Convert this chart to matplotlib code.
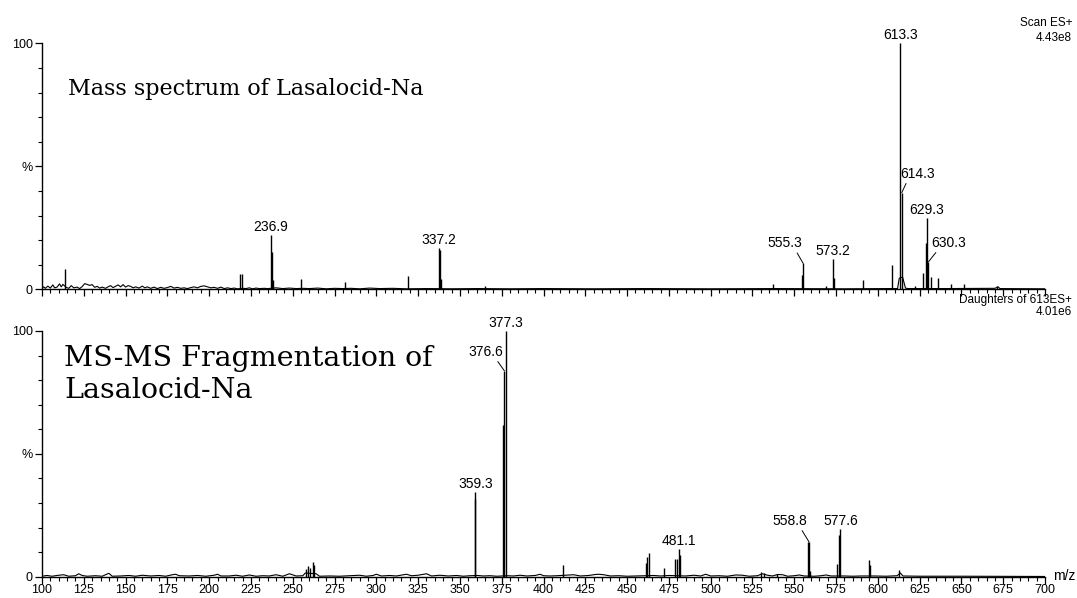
import matplotlib.pyplot as plt
import numpy as np
from matplotlib.ticker import MultipleLocator

# ---- top spectrum: full scan ES+ (relative intensity, %) ----
top_base_mz = [100, 101, 102, 103.5, 105, 106.5, 107.5, 109, 110.5, 111.5, 112.5, 114.5, 116, 117.5, 119,
               121, 122.5, 124, 125.5, 127, 128.5, 130, 131.5, 133, 134.5, 136, 138, 139.5, 141, 142.5,
               144, 145.5, 147, 148.5, 150, 151.5, 153, 154.5, 156, 158, 160, 161.5, 163, 165, 167, 169,
               171, 173, 175, 177, 179, 181, 183, 185, 187, 189, 191, 193, 195, 197, 199, 201, 203, 205,
               207, 209, 211, 213, 215, 217, 220.5, 222, 224, 226, 228, 230, 233, 235, 240, 244, 248,
               252, 256, 260, 265, 270, 275, 280, 285, 290, 296, 302, 310, 318, 330, 345, 360, 380, 400,
               430, 460, 500, 540, 580, 605, 611.8, 612.8, 614.8, 616.5, 618, 640, 670, 672, 673, 700]
top_base_int = [0.3, 1.0, 0.4, 1.3, 0.5, 1.8, 0.6, 0.9, 2.2, 1.0, 2.0, 0.8, 0.4, 1.5, 0.6,
                0.9, 0.3, 1.1, 2.3, 2.0, 1.6, 1.9, 0.8, 1.2, 0.5, 0.9, 0.4, 1.0, 1.5, 0.7,
                1.2, 1.8, 1.0, 1.9, 0.9, 1.5, 1.2, 0.6, 1.0, 0.5, 1.3, 0.6, 1.0, 0.4, 0.9, 0.3,
                0.8, 0.4, 0.7, 1.2, 0.5, 0.8, 0.4, 0.6, 0.3, 0.7, 1.0, 0.6, 1.2, 1.4, 1.0, 0.6, 0.8, 0.4,
                0.9, 0.3, 0.6, 0.3, 0.5, 0.2, 0.4, 0.3, 0.6, 0.2, 0.5, 0.3, 0.4, 0.3, 0.6, 0.3, 0.5,
                0.3, 0.4, 0.3, 0.5, 0.2, 0.4, 0.3, 0.4, 0.2, 0.5, 0.3, 0.4, 0.2, 0.3, 0.2, 0.3, 0.2, 0.3,
                0.2, 0.3, 0.2, 0.3, 0.2, 0.3, 0.3, 4.5, 5.0, 0.5, 0.3, 0.3, 0.4, 1.0, 0.3, 0.2]

top_peak_mz = [113.9, 218.3, 219.5, 236.9, 237.3, 238.0, 254.9, 281.3, 319.1, 337.2, 337.8, 338.4, 365.0,
               537.0, 554.9, 555.3, 568.7, 573.2, 573.8, 591.3, 608.5, 613.3, 614.3, 622.3, 627.2,
               628.6, 629.3, 630.3, 631.8, 635.8, 643.8, 651.7, 671.1]
top_peak_int = [8.1, 6.1, 6.1, 22.0, 15.3, 3.8, 4.1, 2.8, 5.4, 16.7, 16.0, 4.0, 1.2,
                2.2, 5.8, 10.6, 1.2, 12.2, 4.7, 3.8, 9.9, 100.0, 39.3, 1.2, 6.5,
                18.7, 28.9, 11.2, 5.0, 4.7, 2.0, 2.0, 1.5]

top_labels = ["236.9", "337.2", "555.3", "573.2", "613.3", "614.3", "629.3", "630.3"]

# ---- bottom spectrum: daughters of 613 ES+ ----
bot_base_mz = [100, 103, 106, 110, 113, 116, 120, 122, 124, 127, 132, 136, 140, 142, 147, 152, 156, 160,
               165, 170, 174, 178, 180, 182, 188, 193, 198, 203, 205, 207, 212, 216, 220, 224, 228, 232,
               236, 240, 244, 248, 252, 256, 257.5, 264, 266, 272, 278, 284, 290, 294, 298, 300, 303,
               308, 312, 318, 321, 325, 330, 333, 338, 343, 348, 352, 356, 360.5, 364, 368, 372, 375,
               378.5, 382, 386, 390, 395, 398, 400, 404, 408, 413, 418, 422, 427, 431, 433, 436, 440,
               445, 450, 455, 460, 466, 470, 475, 485, 490, 494, 497, 500, 505, 510, 515, 519, 523, 528,
               531, 534, 537, 540, 543, 546, 550, 553, 556, 562, 566, 569, 572, 580, 585, 590, 598, 605,
               611.5, 613.5, 615, 625, 650, 700]
bot_base_int = [0.2, 0.5, 0.2, 0.6, 0.8, 0.2, 0.4, 1.2, 0.5, 0.2, 0.4, 0.2, 1.4, 0.2, 0.3, 0.5, 0.2, 0.6,
                0.3, 0.5, 0.2, 0.8, 1.0, 0.4, 0.3, 0.5, 0.2, 0.6, 1.0, 0.3, 0.3, 0.6, 0.2, 0.7, 0.2, 0.4,
                0.3, 0.8, 0.2, 1.2, 0.3, 0.4, 1.5, 1.2, 0.2, 0.3, 0.2, 0.4, 0.6, 0.2, 0.5, 1.0, 0.3,
                0.5, 0.3, 1.0, 0.4, 0.6, 1.2, 0.3, 0.6, 0.3, 0.5, 0.2, 0.4, 0.5, 0.3, 0.4, 0.2, 0.3,
                0.4, 0.3, 0.6, 0.3, 0.5, 1.0, 0.4, 0.3, 0.4, 0.6, 0.8, 0.3, 0.5, 0.9, 1.0, 0.8, 0.3,
                0.4, 0.2, 0.3, 0.4, 0.5, 0.3, 0.5, 0.3, 0.6, 0.3, 1.0, 0.3, 0.4, 0.2, 0.7, 0.6, 0.2, 0.4,
                1.2, 0.6, 0.3, 0.9, 0.8, 0.2, 0.4, 0.7, 0.3, 0.2, 0.4, 0.7, 0.3, 0.3, 0.2, 0.3, 0.3, 0.2,
                0.4, 1.5, 0.3, 0.2, 0.2, 0.1]

bot_peak_mz = [258.0, 259.0, 260.5, 262.0, 263.0, 358.8, 359.3, 376.0, 376.6, 377.3, 411.7,
               461.5, 462.2, 463.0, 472.2, 478.5, 479.6, 481.1, 481.7, 530.0, 532.0, 539.7,
               558.2, 558.8, 559.6, 575.8, 576.9, 577.6, 594.6, 595.4, 612.6]
bot_peak_int = [3.0, 4.2, 3.5, 5.9, 4.8, 31.6, 34.6, 61.7, 83.8, 100.0, 4.8,
                5.4, 8.0, 9.5, 3.4, 7.1, 7.2, 11.2, 9.0, 2.0, 1.6, 1.2,
                14.0, 14.2, 2.5, 5.0, 17.0, 19.3, 6.8, 4.8, 2.7]

bot_labels = ["359.3", "376.6", "377.3", "481.1", "558.8", "577.6"]

# label offsets in pixels (dx, dy) from the peak top; leader line when listed
offsets = {"555.3": (-18, 16), "614.3": (16, 15), "630.3": (20, 15), "376.6": (-19, 15),
           "558.8": (-19, 17)}

fig = plt.figure(figsize=(10.77, 5.98), dpi=100)
ax1 = fig.add_axes([0.0390, 0.5162, 0.9313, 0.4112])
ax2 = fig.add_axes([0.0390, 0.0356, 0.9313, 0.4109])

lab_font = dict(family="Liberation Sans", size=10)


def draw(ax, bmz, bint, pmz, pint, labels):
    ax.plot(bmz, bint, color="black", lw=0.8)
    ax.vlines(pmz, 0, pint, color="black", lw=1.0)
    ax.set_xlim(100, 700)
    ax.set_ylim(0, 100)
    for s in ["top", "right"]:
        ax.spines[s].set_visible(False)
    for s in ["left", "bottom"]:
        ax.spines[s].set_linewidth(1.0)
    ax.set_yticks([0, 50, 100])
    ax.set_yticklabels(["0", "%", "100"], fontsize=9, family="Liberation Sans")
    ax.yaxis.set_minor_locator(MultipleLocator(10))
    ax.xaxis.set_major_locator(MultipleLocator(25))
    ax.xaxis.set_minor_locator(MultipleLocator(5))
    ax.tick_params(axis="both", which="major", length=5, width=0.9, pad=1.5)
    ax.tick_params(axis="both", which="minor", length=2.6, width=0.8)
    pm = np.array(pmz)
    pi = np.array(pint)
    for lab in labels:
        v = float(lab)
        i = np.argmin(np.abs(pm - v))
        h = pi[i]
        if lab in offsets:
            dx, dy = offsets[lab]
            ax.annotate(lab, xy=(pm[i], h), xytext=(dx, dy), textcoords="offset pixels",
                        ha="center", va="baseline", annotation_clip=False,
                        arrowprops=dict(arrowstyle="-", color="black", lw=0.7,
                                        shrinkA=0, shrinkB=0,
                                        relpos=(0.8 if dx < 0 else 0.2, 0)),
                        **lab_font)
        else:
            ax.annotate(lab, xy=(pm[i], h), xytext=(0, 4), textcoords="offset pixels",
                        ha="center", va="baseline", annotation_clip=False, **lab_font)


draw(ax1, top_base_mz, top_base_int, top_peak_mz, top_peak_int, top_labels)
draw(ax2, bot_base_mz, bot_base_int, bot_peak_mz, bot_peak_int, bot_labels)
ax1.tick_params(labelbottom=False)
ax2.set_xticks(np.arange(100, 701, 25))
ax2.set_xticklabels([str(v) for v in range(100, 701, 25)], fontsize=9, family="Liberation Sans")
ax2.tick_params(axis="x", which="major", pad=0.5)

fig.text(68 / 1077, 1 - 95 / 598, "Mass spectrum of Lasalocid-Na", va="baseline",
         family="DejaVu Serif", size=16)
fig.text(64 / 1077, 1 - 366 / 598, "MS-MS Fragmentation of", va="baseline",
         family="DejaVu Serif", size=20.5)
fig.text(64 / 1077, 1 - 398 / 598, "Lasalocid-Na", va="baseline",
         family="DejaVu Serif", size=20.5)

small = dict(family="Liberation Sans", size=8.5, ha="right", va="baseline")
fig.text(1072 / 1077, 1 - 26 / 598, "Scan ES+", **small)
fig.text(1072 / 1077, 1 - 41 / 598, "4.43e8", **small)
fig.text(1072 / 1077, 1 - 303 / 598, "Daughters of 613ES+", **small)
fig.text(1072 / 1077, 1 - 315 / 598, "4.01e6", **small)
fig.text(1053 / 1077, 1 - 580 / 598, "m/z", family="Liberation Sans", size=10, va="baseline")

fig.savefig("out.png", dpi=100)
